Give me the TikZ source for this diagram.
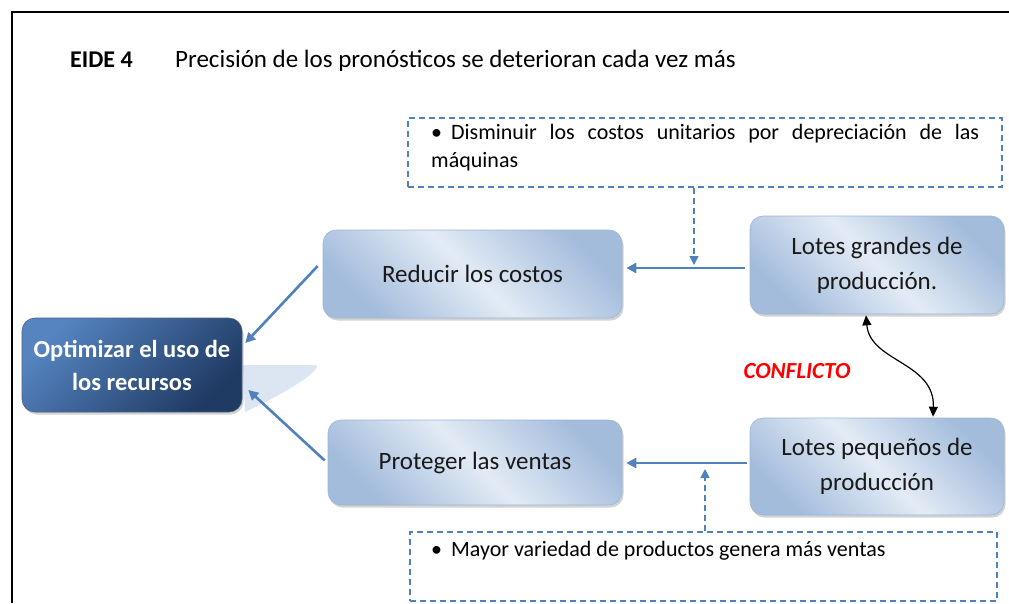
\documentclass[tikz,border=0pt]{standalone}
\usepackage{fontspec}
\setmainfont{Carlito}
\usepackage{xcolor}
\definecolor{lineBlue}{HTML}{4F81BD}
\definecolor{boxLight}{HTML}{E3EBF5}
\definecolor{boxDark}{HTML}{A3BCDC}
\definecolor{boxEdge}{HTML}{9CB4D6}
\definecolor{optTop}{HTML}{5584C0}
\definecolor{optBottom}{HTML}{1F3A63}
\definecolor{fanBlue}{HTML}{DCE6F2}
\definecolor{conflictRed}{HTML}{FF0000}
\usepackage{tikz}
\usetikzlibrary{shapes, shadows, arrows.meta, positioning, calc}

\begin{document}
\begin{tikzpicture}[
    x=1pt, y=-1pt,
    font=\fontsize{25}{30}\selectfont,
    lightBox/.style={draw=boxEdge, line width=0.6pt, rounded corners=13pt, inner sep=0pt,
        left color=boxDark, right color=boxDark, middle color=boxLight, shading angle=135,
        drop shadow={shadow xshift=1.5pt, shadow yshift=-2.5pt, fill=black!50, opacity=0.35},
        text=black!90, align=flush center},
    optBox/.style={draw=optBottom!80, line width=0.6pt, rounded corners=13pt, inner sep=0pt,
        left color=optTop, right color=optBottom, shading angle=45,
        drop shadow={shadow xshift=1.5pt, shadow yshift=-2.5pt, fill=black!50, opacity=0.35},
        text=white, font=\fontsize{24.5}{33}\selectfont\bfseries, align=flush center},
    noteBox/.style={draw=lineBlue, dash pattern=on 6pt off 4pt, line width=1.4pt, inner sep=0pt},
    noteText/.style={inner sep=0pt, font=\fontsize{22}{28}\selectfont},
    arrLine/.style={-{Triangle[length=10pt, width=10pt]}, draw=lineBlue, line width=2.6pt},
    dashArr/.style={-{Triangle[length=9pt, width=9pt]}, draw=lineBlue, line width=1.4pt, dash pattern=on 6pt off 4pt},
    linkArr/.style={{Triangle[length=10pt, width=9pt]}-{Triangle[length=10pt, width=9pt]}, line width=1.2pt}
]
\useasboundingbox (0,0) rectangle (1009,603);

% Frame and title
\draw[line width=2.2pt] (1009,12) -- (12,12) -- (12,603);
\node[anchor=base west, inner sep=0pt, font=\fontsize{24}{30}\selectfont\bfseries] (eide) at (70,67) {EIDE 4};
\node[anchor=base west, inner sep=0pt] (titulo) at (175,67) {Precisión de los pronósticos se deterioran cada vez más};

% Main boxes
\fill[fanBlue] (243,365) -- (316,365) .. controls (322,368) and (300,386) .. (245,412) -- cycle;
\node[optBox, minimum width=220pt, minimum height=94pt, text width=214pt] (opt) at (132,365) {Optimizar el uso de\\los recursos};
\node[lightBox, minimum width=299pt, minimum height=88pt] (reducir) at (472.5,274) {Reducir los costos};
\node[lightBox, minimum width=294pt, minimum height=85pt] (proteger) at (475,462.5) {Proteger las ventas};
\node[lightBox, minimum width=254pt, minimum height=98pt, text width=244pt, font=\fontsize{25}{35}\selectfont] (grandes) at (877,265) {Lotes grandes de\\producción.};
\node[lightBox, minimum width=254pt, minimum height=97pt, text width=244pt, font=\fontsize{25}{35}\selectfont] (pequenos) at (877,466.5) {Lotes pequeños de\\producción};

% Notes
\node[noteBox, minimum width=594pt, minimum height=69pt] (topnote) at (705,152.5) {};
\node[noteText, anchor=north west, text width=548pt, align=justify] (toptext) at (431,124)
    {\hangindent=17pt\hangafter=1\textbullet\hskip 9pt Disminuir los costos unitarios por depreciación de las\linebreak máquinas};
\node[noteBox, minimum width=587pt, minimum height=69pt] (botnote) at (703.5,566.5) {};
\node[noteText, anchor=base west] (bottext) at (431,556)
    {\textbullet\hskip 9pt Mayor variedad de productos genera más ventas};

% Arrows
\coordinate (joinTop) at (694,265);
\coordinate (joinBot) at (705,469);
\draw[arrLine] ($(reducir.west)+(-5,-8)$) -- ($(opt.east)+(3,-22)$);
\draw[arrLine] ($(proteger.west)+(-3,-2)$) -- ($(opt.east)+(6,25)$);
\draw[arrLine] ($(grandes.west)+(-5,3)$) -- ($(reducir.east)+(4,-6)$);
\draw[arrLine] ($(pequenos.west)+(-3,-3.5)$) -- ($(proteger.east)+(4,0.5)$);
\draw[dashArr] (topnote.south -| joinTop) -- (joinTop);
\draw[dashArr] (botnote.north -| joinBot) -- (joinBot);

% Conflict
\draw[linkArr] ($(grandes.south)+(-11,1)$) .. controls (870,362) and (935,362) .. ($(pequenos.north)+(56,-1)$);
\node[font=\fontsize{23}{28}\selectfont\bfseries\itshape, text=conflictRed] (conflicto) at (797,371) {CONFLICTO};

\end{tikzpicture}
\end{document}
